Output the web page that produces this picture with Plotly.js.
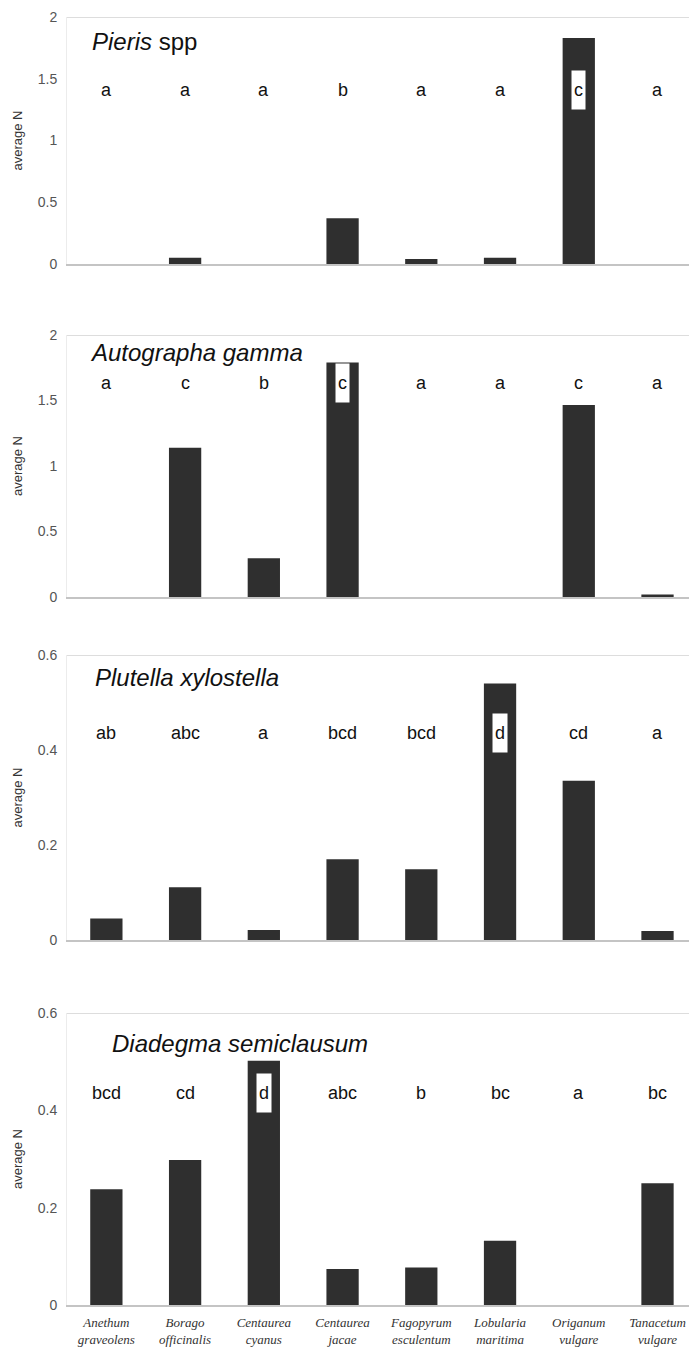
<!DOCTYPE html>
<html>
<head>
<meta charset="utf-8">
<script src="https://cdn.plot.ly/plotly-3.0.1.min.js"></script>
<style>html,body{margin:0;padding:0;background:#fff;}#chart{width:689px;height:1353px;}</style>
</head>
<body>
<div id="chart"></div>
<script>
// ---- data ----
const categories = ['Anethum<br>graveolens', 'Borago<br>officinalis', 'Centaurea<br>cyanus', 'Centaurea<br>jacae',
  'Fagopyrum<br>esculentum', 'Lobularia<br>maritima', 'Origanum<br>vulgare', 'Tanacetum<br>vulgare'];

const pierisValues     = [0, 0.05, 0, 0.37, 0.04, 0.05, 1.83, 0];
const autographaValues = [0, 1.14, 0.295, 1.79, 0, 0, 1.465, 0.02];
const plutellaValues   = [0.045, 0.111, 0.021, 0.17, 0.149, 0.54, 0.335, 0.019];
const diadegmaValues   = [0.238, 0.298, 0.502, 0.074, 0.077, 0.132, 0, 0.25];

const pierisLetters     = ['a', 'a', 'a', 'b', 'a', 'a', 'c', 'a'];
const autographaLetters = ['a', 'c', 'b', 'c', 'a', 'a', 'c', 'a'];
const plutellaLetters   = ['ab', 'abc', 'a', 'bcd', 'bcd', 'd', 'cd', 'a'];
const diadegmaLetters   = ['bcd', 'cd', 'd', 'abc', 'b', 'bc', 'a', 'bc'];

const panelTitles = ['<i>Pieris</i> spp', '<i>Autographa gamma</i>', '<i>Plutella xylostella</i>', '<i>Diadegma semiclausum</i>'];
const yTitle = 'average N';

// ---- layout config ----
const H = 1353, W = 689, ML = 67;
const panels = [
  {vals: pierisValues, letters: pierisLetters, top: 17, bottom: 264, ymax: 2, dtick: 0.5, letterY: 1.41, titleY: 42, titleX: 90},
  {vals: autographaValues, letters: autographaLetters, top: 335, bottom: 597, ymax: 2, dtick: 0.5, letterY: 1.63, titleY: 352, titleX: 88},
  {vals: plutellaValues, letters: plutellaLetters, top: 655, bottom: 940, ymax: 0.6, dtick: 0.2, letterY: 0.435, titleY: 677, titleX: 93},
  {vals: diadegmaValues, letters: diadegmaLetters, top: 1013, bottom: 1305, ymax: 0.6, dtick: 0.2, letterY: 0.435, titleY: 1043, titleX: 110}
];

const data = [];
const layout = {
  width: W, height: H,
  margin: {l: ML, r: 0, t: 0, b: 0},
  paper_bgcolor: '#fff', plot_bgcolor: '#fff',
  showlegend: false,
  bargap: 0.59,
  font: {family: 'Liberation Sans, Arial, sans-serif', color: '#222'},
  annotations: [],
  shapes: []
};

const plotW = W - ML;
panels.forEach((p, i) => {
  const n = i + 1;
  const xa = n === 1 ? 'x' : 'x' + n;
  const ya = n === 1 ? 'y' : 'y' + n;
  const xKey = n === 1 ? 'xaxis' : 'xaxis' + n;
  const yKey = n === 1 ? 'yaxis' : 'yaxis' + n;
  data.push({
    type: 'bar', x: categories, y: p.vals, xaxis: xa, yaxis: ya,
    marker: {color: '#2f2f2f', line: {width: 0}},
    hoverinfo: 'skip'
  });
  layout[xKey] = {
    domain: [0, 1], anchor: ya, type: 'category',
    range: [-0.5, 7.4],
    showline: true, linecolor: '#c4c4c4', linewidth: 1.5,
    showgrid: false, zeroline: false,
    ticks: '', showticklabels: n === 4, ticklabelstandoff: 5,
    tickfont: {family: 'Liberation Serif, Times New Roman, serif', size: 13, color: '#333', style: 'italic'}
  };
  layout[yKey] = {
    domain: [1 - p.bottom / H, 1 - p.top / H], anchor: xa,
    range: [0, p.ymax], dtick: p.dtick, tick0: 0,
    showgrid: false, zeroline: false,
    showline: true, linecolor: '#ececec', linewidth: 1,
    ticks: 'outside', ticklen: 6, tickcolor: 'rgba(0,0,0,0)',
    tickfont: {size: 14, color: '#555'}
  };
  // top reference line
  layout.shapes.push({type: 'line', xref: 'paper', yref: ya, x0: 0, x1: 1, y0: p.ymax, y1: p.ymax,
    line: {color: '#d2d2d2', width: 1.5}});
  // panel title
  layout.annotations.push({xref: 'paper', yref: 'paper', x: (p.titleX - ML) / plotW, y: 1 - p.titleY / H,
    xanchor: 'left', yanchor: 'middle', text: panelTitles[i], showarrow: false,
    font: {size: 24, color: '#111'}});
  // y title
  layout.annotations.push({xref: 'paper', yref: 'paper', x: (17 - ML) / plotW, y: 1 - (p.top + p.bottom) / 2 / H,
    xanchor: 'center', yanchor: 'middle', text: yTitle, textangle: -90, showarrow: false,
    font: {size: 13, color: '#333'}});
  // letters
  p.letters.forEach((L, j) => {
    layout.annotations.push({xref: xa, yref: ya, x: categories[j], y: p.letterY, text: L,
      showarrow: false, bgcolor: '#ffffff', height: 34, borderpad: 2,
      font: {size: 18, color: '#111'}});
  });
});

Plotly.newPlot('chart', data, layout, {staticPlot: true, displayModeBar: false});
</script>
</body>
</html>
